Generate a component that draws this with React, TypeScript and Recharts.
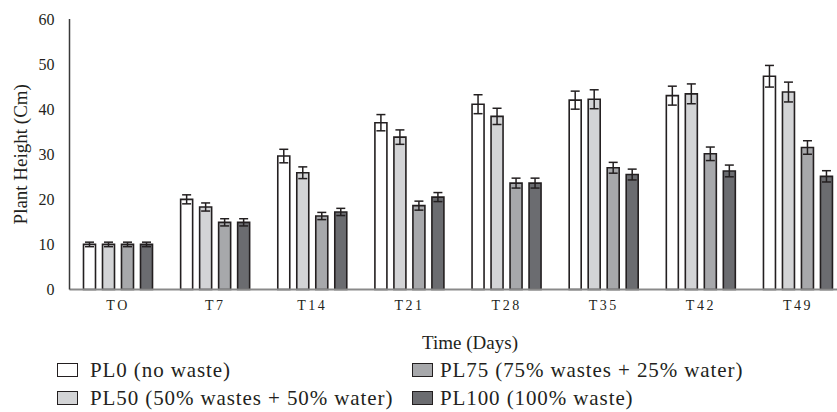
import React from 'react';
import { BarChart, Bar, XAxis, YAxis, ErrorBar, Legend, Label } from 'recharts';

const categories = ['TO', 'T7', 'T14', 'T21', 'T28', 'T35', 'T42', 'T49'];
const pl0 = [10.0, 20.0, 29.6, 37.0, 41.1, 42.0, 43.0, 47.3];
const pl0Err = [0.5, 1.0, 1.5, 1.8, 2.1, 2.0, 2.1, 2.4];
const pl50 = [10.0, 18.3, 25.9, 33.8, 38.4, 42.2, 43.4, 43.8];
const pl50Err = [0.5, 0.9, 1.3, 1.6, 1.8, 2.1, 2.2, 2.2];
const pl75 = [10.0, 14.9, 16.3, 18.6, 23.6, 27.0, 30.1, 31.5];
const pl75Err = [0.5, 0.8, 0.8, 1.0, 1.1, 1.2, 1.5, 1.5];
const pl100 = [10.0, 14.9, 17.2, 20.5, 23.6, 25.5, 26.3, 25.1];
const pl100Err = [0.5, 0.8, 0.8, 1.0, 1.1, 1.2, 1.3, 1.25];
const yTicks = [0, 10, 20, 30, 40, 50, 60];

const seriesNames = [
  'PL0 (no waste)',
  'PL50 (50% wastes + 50% water)',
  'PL75 (75% wastes + 25%\u00a0water)',
  'PL100 (100% waste)',
];
const seriesColors = ['#ffffff', '#d3d4d6', '#a7a8ab', '#6b6c70'];

const data = categories.map((c, i) => ({
  cat: c,
  pl0: pl0[i],
  pl0Err: pl0Err[i],
  pl50: pl50[i],
  pl50Err: pl50Err[i],
  pl75: pl75[i],
  pl75Err: pl75Err[i],
  pl100: pl100[i],
  pl100Err: pl100Err[i],
}));

const INK = '#231f20';
const FONT = '"Liberation Serif", "Times New Roman", serif';
const MARGIN = { top: 19, right: 13.4, left: 0, bottom: 92.5 };
const CHART_H = 412;
const X_AXIS_H = 30;

const LegendContent = (props: any) => {
  const cols = [
    [seriesNames[0], seriesNames[1]],
    [seriesNames[2], seriesNames[3]],
  ];
  const colLeft = [57, 412];
  return (
    <div style={{ position: 'relative', width: 837, height: 57, fontFamily: FONT }}>
      {cols.map((col, ci) =>
        col.map((name, ri) => {
          const idx = seriesNames.indexOf(name);
          return (
            <div
              key={name}
              style={{
                position: 'absolute',
                left: colLeft[ci],
                top: ri * 28,
                height: 28,
                display: 'flex',
                alignItems: 'center',
                whiteSpace: 'nowrap',
              }}
            >
              <span
                style={{
                  display: 'inline-block',
                  width: 19,
                  height: 12,
                  background: seriesColors[idx],
                  border: `1.5px solid ${INK}`,
                  marginRight: ci === 0 ? 12 : 7,
                }}
              />
              <span style={{ fontSize: 21, color: INK, letterSpacing: 0.9 }}>{name}</span>
            </div>
          );
        })
      )}
    </div>
  );
};

const barKeys = ['pl0', 'pl50', 'pl75', 'pl100'];

export default function App() {
  const plotTop = MARGIN.top;
  const plotBottom = CHART_H - MARGIN.bottom - X_AXIS_H;
  const yLabelCy = (plotTop + plotBottom) / 2;
  return (
    <div style={{ position: 'absolute', left: 0, top: 0, width: 837, height: 412, overflow: 'hidden', background: '#fff' }}>
      <BarChart
        width={860}
        height={CHART_H}
        data={data}
        margin={MARGIN}
        barSize={12}
        barGap={7}
      >
        <XAxis
          dataKey="cat"
          height={X_AXIS_H}
          axisLine={{ stroke: '#8a8a8a', strokeWidth: 2 }}
          tickLine={false}
          tickMargin={5}
          tick={{ fontSize: 14, fill: INK, fontFamily: FONT, letterSpacing: 2.5 }}
          interval={0}
        >
          <Label
            content={(p: any) => {
              const vb = p.viewBox;
              return (
                <text
                  x={vb.x + vb.width / 2 + 12}
                  y={vb.y + 59}
                  textAnchor="middle"
                  fontSize={19}
                  fill={INK}
                  fontFamily={FONT}
                >
                  Time (Days)
                </text>
              );
            }}
          />
        </XAxis>
        <YAxis
          width={69.5}
          domain={[0, 60]}
          ticks={yTicks}
          interval={0}
          axisLine={{ stroke: '#3a3a3a', strokeWidth: 1.5 }}
          tickLine={false}
          tickMargin={9}
          tick={{ fontSize: 16, fill: INK, fontFamily: FONT }}
        >
          <Label
            content={() => {
              const cx = 20;
              const cy = yLabelCy;
              return (
                <text
                  x={cx}
                  y={cy}
                  transform={`rotate(-90, ${cx}, ${cy})`}
                  textAnchor="middle"
                  dominantBaseline="central"
                  fontSize={19}
                  fill={INK}
                  fontFamily={FONT}
                >
                  Plant Height (Cm)
                </text>
              );
            }}
          />
        </YAxis>
        <Legend
          layout="horizontal"
          verticalAlign="middle"
          align="center"
          content={<LegendContent />}
          wrapperStyle={{ left: 0, top: 356, width: 837, height: 57 }}
        />
        {barKeys.map((k, i) => (
          <Bar
            key={k}
            dataKey={k}
            name={seriesNames[i]}
            fill={seriesColors[i]}
            stroke={INK}
            strokeWidth={1.6}
            isAnimationActive={false}
          >
            <ErrorBar dataKey={`${k}Err`} width={4.5} stroke={INK} strokeWidth={1.5} direction="y" />
          </Bar>
        ))}
      </BarChart>
    </div>
  );
}
